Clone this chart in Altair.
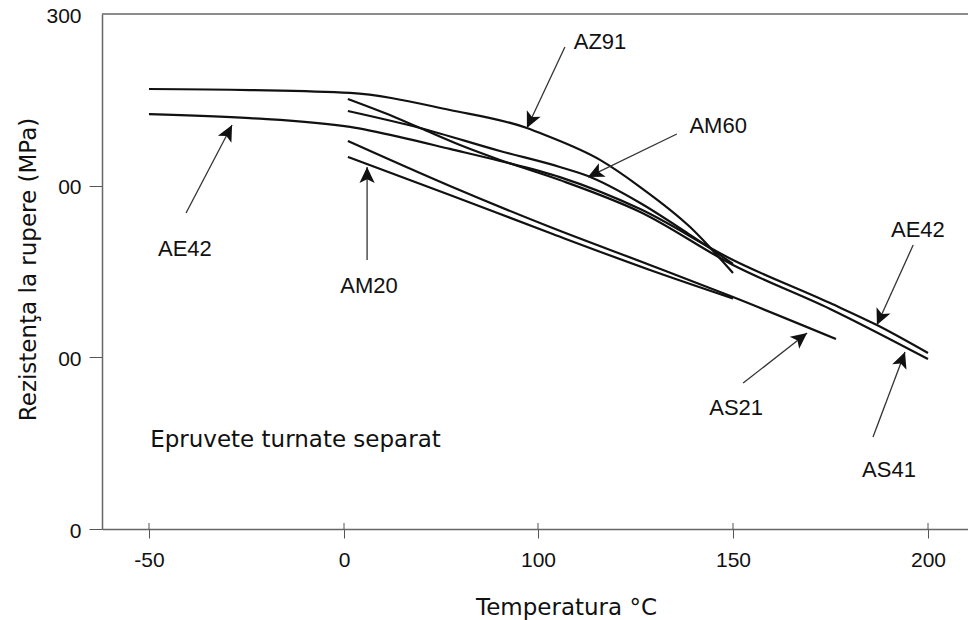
import altair as alt
import pandas as pd

# ---- curve data (temperature as labelled on the axis, strength MPa) ----
AZ91_T = [-50, -24.1, 3.1, 54.6, 94.3, 101.8, 115.9, 126.2, 139.0, 150.0]
AZ91_R = [256.3, 255.7, 254.0, 244.1, 233.6, 229.5, 215.0, 199.2, 175.9, 149.1]
AE42_T = [-50, -24.1, 3.1, 28.9, 54.6, 80.4, 105.6, 126.2, 150.0, 174.9, 186.9, 200.0]
AE42_R = [241.7, 239.4, 234.2, 228.3, 221.4, 214.4, 205.0, 186.4, 156.7, 131.6, 118.8, 102.5]
AM60_T = [2.0, 39.2, 80.4, 105.6, 112.8, 126.2, 139.0, 150.0]
AM60_R = [243.5, 233.6, 220.2, 210.9, 205.6, 189.9, 171.3, 154.4]
AS41_T = [2.0, 21.0, 39.2, 59.8, 80.4, 105.6, 126.2, 150.0, 174.9, 200.0]
AS41_R = [250.5, 242.3, 233.6, 223.7, 215.0, 203.3, 184.7, 153.8, 128.2, 99.0]
AS21_T = [2.0, 54.6, 103.1, 128.7, 150.0, 176.4]
AS21_R = [226.0, 199.8, 175.9, 153.8, 135.1, 110.7]
AM20_T = [2.0, 54.6, 103.1, 128.7, 150.0]
AM20_R = [216.7, 194.6, 172.4, 150.9, 134.3]

# ---- annotations ----
ann_label = ["AE42", "AM20", "AZ91", "AM60", "AE42", "AS21", "AS41"]
ann_label_T = [-40.8, 12.9, 115.9, 146.2, 197.4, 150.8, 190.0]
ann_label_R = [163.1, 141.6, 283.7, 234.8, 174.2, 70.5, 34.4]
ann_from_T = [-40.5, 11.9, 106.9, 135.6, 196.2, 152.6, 185.9]
ann_from_R = [184.1, 156.7, 280.8, 230.1, 165.4, 85.0, 53.6]
ann_to_T = [-28.7, 11.9, 94.3, 112.8, 186.9, 169.0, 194.1]
ann_to_R = [235.3, 210.9, 233.6, 205.0, 118.8, 114.2, 103.1]
head_angle = [27.6, 0, 205.1, 243.7, 204.2, 52.0, 20.6]

x_ticks = [-50, 0, 100, 150, 200]
y_ticks = [0, 100, 200, 300]
note_text = "Epruvete turnate separat"
note_T = [-49.7]
note_R = [47.8]

W, H = 866, 515

rows = []
for name, T, R in [("AZ91", AZ91_T, AZ91_R), ("AE42", AE42_T, AE42_R),
                   ("AM60", AM60_T, AM60_R), ("AS41", AS41_T, AS41_R),
                   ("AS21", AS21_T, AS21_R), ("AM20", AM20_T, AM20_R)]:
    for i, (t, r) in enumerate(zip(T, R)):
        rows.append({"alloy": name, "T": t, "R": r, "order": i})
curves = pd.DataFrame(rows)

ann = pd.DataFrame({
    "label": ann_label, "lT": ann_label_T, "lR": ann_label_R,
    "fT": ann_from_T, "fR": ann_from_R, "tT": ann_to_T, "tR": ann_to_R,
    "angle": head_angle,
})

xscale = alt.Scale(domain=[-62.05, -50, 0, 100, 150, 200, 210.26],
                   range=[0, 47, 242, 436, 631, 826, 866], nice=False, zero=False)
yscale = alt.Scale(domain=[0, 300], nice=False, zero=False)

xaxis = alt.Axis(values=x_ticks, title="Temperatura °C", grid=False,
                 labelExpr="'' + datum.value",
                 labelFont="Liberation Sans", labelFontSize=21, labelColor="#111",
                 labelPadding=11, labelFlush=False, tickSize=9, tickColor="#555",
                 domainColor="#666", domainWidth=1.5,
                 titleFont="DejaVu Sans", titleFontSize=23, titleFontWeight="normal",
                 titleColor="#111", titleX=464, titleY=85, titleAlign="center",
                 titleBaseline="alphabetic")
yaxis = alt.Axis(values=y_ticks, title="Rezistenţa la rupere (MPa)", grid=False,
                 labelExpr="datum.value == 100 || datum.value == 200 ? '00' : '' + datum.value",
                 labelFont="Liberation Sans", labelFontSize=21, labelColor="#111",
                 labelPadding=8, labelFlush=False, tickSize=13, labelOffset=2,
                 tickColor={"condition": {"test": "datum.value == 300", "value": "transparent"},
                            "value": "#555"},
                 domainColor="#666", domainWidth=1.5,
                 titleFont="DejaVu Sans", titleFontSize=23, titleFontWeight="normal",
                 titleColor="#111", titleX=-67, titleY=255, titleAngle=270,
                 titleAlign="center", titleBaseline="alphabetic")

lines = alt.Chart(curves).mark_line(color="#111", strokeWidth=2.2, interpolate="monotone").encode(
    x=alt.X("T:Q", scale=xscale, axis=xaxis),
    y=alt.Y("R:Q", scale=yscale, axis=yaxis),
    detail="alloy:N",
    order="order:Q",
)

top_line = alt.Chart(pd.DataFrame({"a": [0]})).mark_rule(color="#666", strokeWidth=1.5).encode(
    x=alt.value(0), x2=alt.value(W), y=alt.value(0)
)

tick_up = alt.Chart(pd.DataFrame({"T": x_ticks})).mark_rule(color="#555", strokeWidth=1).encode(
    x=alt.X("T:Q", scale=xscale), y=alt.value(H - 6), y2=alt.value(H)
)

arrows = alt.Chart(ann).mark_rule(color="#333", strokeWidth=1.3).encode(
    x=alt.X("fT:Q", scale=xscale), y=alt.Y("fR:Q", scale=yscale),
    x2="tT:Q", y2="tR:Q",
)

heads = alt.Chart(ann).mark_point(
    shape="M0,0L-0.5,1.05L0,0.8L0.5,1.05Z", filled=True, color="#111",
    size=930, opacity=1, strokeWidth=0,
).encode(
    x=alt.X("tT:Q", scale=xscale), y=alt.Y("tR:Q", scale=yscale),
    angle=alt.Angle("angle:Q", scale=None),
)

labels = alt.Chart(ann).mark_text(font="Liberation Sans", fontSize=22, color="#111",
                                   align="center", baseline="middle").encode(
    x=alt.X("lT:Q", scale=xscale), y=alt.Y("lR:Q", scale=yscale), text="label:N"
)

note = alt.Chart(pd.DataFrame({"T": note_T, "R": note_R, "t": [note_text]})).mark_text(
    font="DejaVu Sans", fontSize=23, color="#111", align="left", baseline="alphabetic"
).encode(x=alt.X("T:Q", scale=xscale), y=alt.Y("R:Q", scale=yscale), text="t:N")

chart = alt.layer(lines, top_line, tick_up, arrows, heads, labels, note).properties(
    width=W, height=H,
    padding={"left": 102, "top": 14, "right": 0, "bottom": 91},
    autosize="none",
    background="white",
).configure_view(stroke=None)

chart.save("out.html", embed_options={"renderer": "svg", "actions": False})
